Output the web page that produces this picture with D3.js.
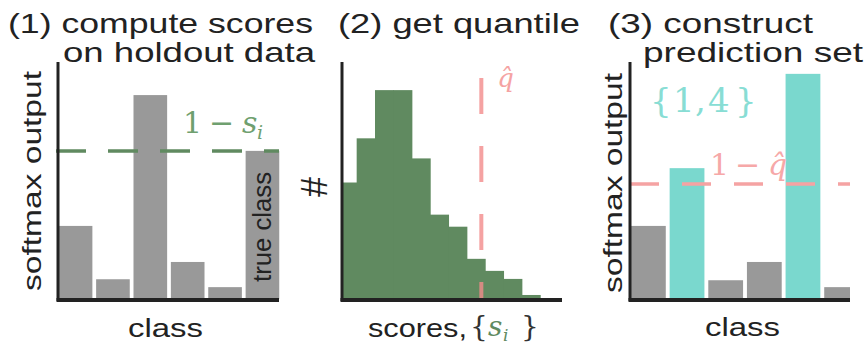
<!DOCTYPE html>
<html><head><meta charset="utf-8">
<script src="https://cdn.jsdelivr.net/npm/d3@7"></script>
<style>body{margin:0;background:#fff}svg{display:block}</style>
</head><body>
<script>
// ---------- data ----------
const classes = ["0", "1", "2", "3", "4", "5"];
const holdoutSoftmax = [0.148, 0.040, 0.413, 0.075, 0.024, 0.300];
const trueClass = "5";
const testSoftmax = [0.148, 0.265, 0.038, 0.075, 0.456, 0.024];
const predictionSet = ["1", "4"];
const scoreBinEdges = [0, 0.05, 0.10, 0.15, 0.20, 0.25, 0.30, 0.35, 0.40, 0.45, 0.50, 0.55];
const scoreCounts = [29, 40, 52, 52, 35, 21, 18, 10, 7, 5, 1];
const qhat = 0.39;
const oneMinusQhat = 0.233;
const titles = [["(1) compute scores", "on holdout data"], ["(2) get quantile"], ["(3) construct", "prediction set"]];
const axisLabels = { softmax: "softmax output", cls: "class", count: "#", scores: "scores,", trueCls: "true class" };

// ---------- styles ----------
const sans = "'Liberation Sans', Arial, sans-serif";
const serif = "'DejaVu Serif', 'Liberation Serif', serif";
const GRAY = "#999999", GREEN = "#608a60", TEAL = "#7ad8ce", PINK = "#f5a3a3";
const INK = "#222";

const svg = d3.select("body").append("svg").attr("width", 864).attr("height", 346);
svg.append("rect").attr("width", 864).attr("height", 346).attr("fill", "#fff");

function txt(parent, s, o) {
  const t = parent.append("text").attr("font-family", o.family || sans)
    .attr("font-size", o.size).attr("fill", o.fill || INK)
    .attr("text-anchor", o.anchor || "start");
  if (o.rotate) t.attr("transform", `translate(${o.x},${o.y}) rotate(${o.rotate})`);
  else t.attr("x", o.x).attr("y", o.y);
  if (o.len) t.attr("textLength", o.len).attr("lengthAdjust", "spacingAndGlyphs");
  t.text(s);
  return t;
}
function spines(g, f) {
  g.append("line").attr("x1", f.left).attr("x2", f.left).attr("y1", f.top).attr("y2", f.bottom + 1)
    .attr("stroke", INK).attr("stroke-width", 3);
  g.append("line").attr("x1", f.left - 1.5).attr("x2", f.right).attr("y1", f.bottom).attr("y2", f.bottom)
    .attr("stroke", INK).attr("stroke-width", 4);
}
function mathText(g, y, size, fill, parts) {
  const t = g.append("text").attr("font-family", serif)
    .attr("font-size", size).attr("fill", fill).attr("y", y);
  parts.forEach(p => {
    const s = t.append("tspan").attr("x", p.x).text(p.t);
    if (p.it) s.attr("font-style", "italic");
    if (p.size) s.attr("font-size", p.size);
    if (p.dy) s.attr("dy", p.dy);
    if (p.fill) s.attr("fill", p.fill);
  });
  return t;
}

const ySoft = d3.scaleLinear().domain([0, 0.48]).range([299, 62]);

// ---------- panel 1 ----------
{
  const f = { left: 58, right: 279, top: 62, bottom: 300 };
  const g = svg.append("g");
  const x = d3.scaleBand().domain(classes).range([58, 280]).paddingInner(0.1).paddingOuter(0.02);
  g.selectAll("rect.bar").data(classes.map((c, i) => ({ c, v: holdoutSoftmax[i] }))).join("rect")
    .attr("x", d => x(d.c)).attr("y", d => ySoft(d.v))
    .attr("width", x.bandwidth()).attr("height", d => ySoft(0) - ySoft(d.v)).attr("fill", GRAY);
  const tv = holdoutSoftmax[classes.indexOf(trueClass)];
  g.append("line").attr("x1", f.left - 2).attr("x2", f.right).attr("y1", ySoft(tv)).attr("y2", ySoft(tv))
    .attr("stroke", GREEN).attr("stroke-width", 3.5).attr("stroke-dasharray", "30,22");
  spines(g, f);
  txt(g, axisLabels.trueCls, { x: x(trueClass) + x.bandwidth() / 2 + 9, y: 227, size: 26, len: 110, anchor: "middle", rotate: -90 });
  mathText(g, 133, 30, "#6fa06f", [
    { x: 183, t: "1" }, { x: 209, t: "\u2212" }, { x: 242, t: "s", it: true },
    { x: 257, t: "i", it: true, size: 19, dy: 6 }]);
  txt(g, axisLabels.softmax, { x: 41, y: 181, size: 25, len: 220, anchor: "middle", rotate: -90 });
  txt(g, axisLabels.cls, { x: 128, y: 337, size: 25, len: 75 });
  txt(g, titles[0][0], { x: 8, y: 33, size: 28, len: 305 });
  txt(g, titles[0][1], { x: 63, y: 62, size: 28, len: 252 });
}

// ---------- panel 2 ----------
{
  const f = { left: 342, right: 562, top: 62, bottom: 300 };
  const g = svg.append("g");
  const x = d3.scaleLinear().domain([0.01, 0.61]).range([342, 562]).clamp(true);
  const y = d3.scaleLinear().domain([0, 59]).range([299, 62]);
  const bins = scoreCounts.map((c, i) => ({ x0: scoreBinEdges[i], x1: scoreBinEdges[i + 1], c }));
  g.selectAll("rect.bin").data(bins).join("rect")
    .attr("x", d => x(d.x0)).attr("width", d => x(d.x1) - x(d.x0) + 0.7)
    .attr("y", d => y(d.c)).attr("height", d => y(0) - y(d.c)).attr("fill", GREEN);
  g.append("line").attr("x1", x(qhat)).attr("x2", x(qhat)).attr("y1", y(55)).attr("y2", y(0))
    .attr("stroke", "#f28b8b").attr("stroke-opacity", 0.8).attr("stroke-width", 4).attr("stroke-dasharray", "36,32");
  spines(g, f);
  mathText(g, 87, 26, PINK, [{ x: x(qhat) + 16, t: "q\u0302", it: true }]);
  txt(g, axisLabels.count, { x: 327, y: 187, size: 36, anchor: "middle", rotate: -90 });
  txt(g, axisLabels.scores, { x: 368, y: 337, size: 25, len: 99 });
  mathText(g, 336, 28, "#333", [
    { x: 470, t: "{" }, { x: 488, t: "s", it: true, fill: GREEN },
    { x: 503, t: "i", it: true, size: 17, dy: 5, fill: GREEN }, { x: 521, t: "}", dy: -5 }]);
  txt(g, titles[1][0], { x: 338, y: 33, size: 28, len: 242 });
}

// ---------- panel 3 ----------
{
  const f = { left: 630, right: 850, top: 62, bottom: 300 };
  const g = svg.append("g");
  svg.append("clipPath").attr("id", "clip3").append("rect")
    .attr("x", f.left).attr("y", 0).attr("width", f.right - f.left).attr("height", 346);
  const x = d3.scaleBand().domain(classes).range([631, 859]).paddingInner(0.1).paddingOuter(0);
  g.append("g").attr("clip-path", "url(#clip3)")
    .selectAll("rect").data(classes.map((c, i) => ({ c, v: testSoftmax[i] }))).join("rect")
    .attr("x", d => x(d.c)).attr("y", d => ySoft(d.v))
    .attr("width", x.bandwidth()).attr("height", d => ySoft(0) - ySoft(d.v))
    .attr("fill", d => predictionSet.includes(d.c) ? TEAL : GRAY);
  g.append("line").attr("x1", f.left).attr("x2", f.right).attr("y1", ySoft(oneMinusQhat)).attr("y2", ySoft(oneMinusQhat))
    .attr("stroke", PINK).attr("stroke-width", 3.5).attr("stroke-dasharray", "29,23");
  spines(g, f);
  mathText(g, 175, 30, "#f6a8a8", [
    { x: 710, t: "1" }, { x: 735, t: "\u2212" }, { x: 768, t: "q\u0302", it: true }]);
  mathText(g, 112, 34, "#88ddd4", [
    { x: 650, t: "{" }, { x: 673, t: predictionSet[0] }, { x: 695, t: "," },
    { x: 708, t: predictionSet[1] }, { x: 735, t: "}" }]);
  txt(g, axisLabels.softmax, { x: 622, y: 183, size: 25, len: 220, anchor: "middle", rotate: -90 });
  txt(g, axisLabels.cls, { x: 705, y: 336, size: 25, len: 75 });
  txt(g, titles[2][0], { x: 608, y: 33, size: 28, len: 205 });
  txt(g, titles[2][1], { x: 643, y: 62, size: 28, len: 220 });
}
</script>
</body></html>
